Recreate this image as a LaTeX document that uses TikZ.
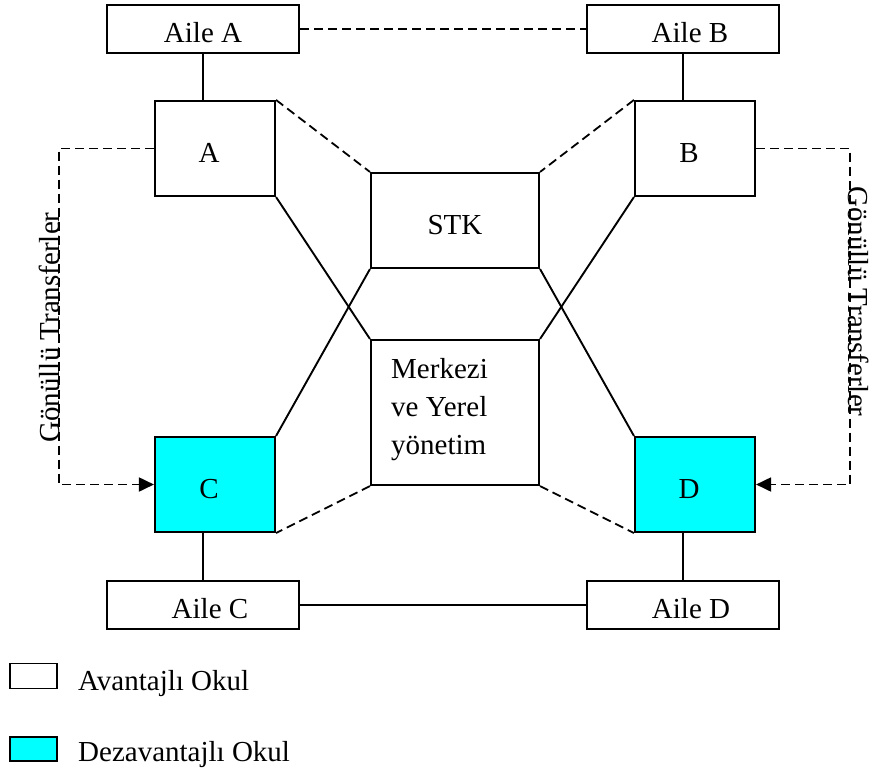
\documentclass[tikz,border=0pt]{standalone}
\usepackage{fontspec}
\setmainfont{Liberation Serif}
\usetikzlibrary{arrows.meta}
\definecolor{dezcyan}{HTML}{00FFFF}
\begin{document}
\begin{tikzpicture}[x=1pt,y=-1pt,
  every node/.style={font=\fontsize{29}{38}\selectfont},
  box/.style={draw, line width=2.1pt, fill=white, inner sep=0pt, text height=27pt, text depth=0pt},
  ailebox/.style={box, minimum width=192pt, minimum height=48pt},
  okulbox/.style={box, minimum width=120pt, minimum height=95pt},
  dezbox/.style={okulbox, fill=dezcyan},
  midbox/.style={box, minimum width=168pt},
  solidline/.style={line width=1.9pt},
  dashline/.style={line width=1.8pt, dash pattern=on 9pt off 5pt},
  tip/.style={-{Triangle[length=15pt,width=14pt]}},
  plain/.style={inner sep=0pt}
]
\useasboundingbox (0,0) rectangle (872,771);

% boxes
\node[ailebox] (aileA) at (203,29) {Aile A};
\node[ailebox] (aileB) at (683,29) {\hspace*{14pt}Aile B};
\node[okulbox] (A) at (215,148.5) {\hspace*{-12pt}A};
\node[okulbox] (B) at (695,148.5) {\hspace*{-12pt}B};
\node[midbox, minimum height=95pt] (stk) at (455,220.5) {STK};
\node[midbox, minimum height=145pt] (mer) at (455,412.5) {};
\node[plain, anchor=north west, align=left] (mertxt) at (391,358.5) {Merkezi\\ve Yerel\\yönetim};
\node[dezbox] (C) at (215,484.5) {\hspace*{-12pt}C};
\node[dezbox] (D) at (695,484.5) {\hspace*{-12pt}D};
\node[ailebox] (aileC) at (203,605) {\hspace*{14pt}Aile C};
\node[ailebox] (aileD) at (683,605) {\hspace*{16pt}Aile D};

% family links
\draw[dashline] (aileA.east) -- (aileB.west);
\draw[solidline] (aileC.east) -- (aileD.west);
\draw[solidline] (aileA.south) -- (aileA.south |- A.north);
\draw[solidline] (aileB.south) -- (aileB.south |- B.north);
\draw[solidline] (aileC.north |- C.south) -- (aileC.north);
\draw[solidline] (aileD.north |- D.south) -- (aileD.north);

% STK and government links
\draw[dashline] (A.north east) -- (stk.north west);
\draw[dashline] (B.north west) -- (stk.north east);
\draw[solidline] (A.south east) -- (mer.north west);
\draw[solidline] (B.south west) -- (mer.north east);
\draw[solidline] (stk.south west) -- (C.north east);
\draw[solidline] (stk.south east) -- (D.north west);
\draw[dashline] (mer.south west) -- (C.south east);
\draw[dashline] (mer.south east) -- (D.south west);

% voluntary transfers
\coordinate (lcorner) at (59,148.5);
\coordinate (rcorner) at (850,148.5);
\draw[dashline, tip] (A.west) -- (lcorner) |- (C.west);
\draw[dashline, tip] (B.east) -- (rcorner) |- (D.east);
\node[plain, rotate=90, anchor=base] (ltxt) at (59,327.5) {Gönüllü Transferler};
\node[plain, rotate=-90, anchor=base] (rtxt) at (848.5,301.5) {Gönüllü Transferler};

% legend
\node[draw, line width=1.9pt, fill=white, minimum width=47pt, minimum height=25pt, inner sep=0pt] (legA) at (33.5,676) {};
\node[draw, line width=1.9pt, fill=dezcyan, minimum width=47pt, minimum height=24pt, inner sep=0pt] (legB) at (33.5,749) {};
\node[plain, anchor=base west] (legAtxt) at (78,690) {Avantajlı Okul};
\node[plain, anchor=base west] (legBtxt) at (78,761) {Dezavantajlı Okul};
\end{tikzpicture}
\end{document}
